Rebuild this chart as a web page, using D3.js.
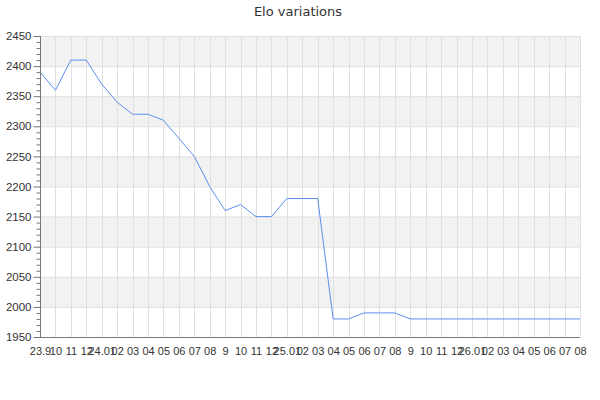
<!DOCTYPE html>
<html><head><meta charset="utf-8">
<script src="https://cdn.jsdelivr.net/npm/d3@7"></script>
<style>body{margin:0;background:#fff}svg{font-family:"DejaVu Sans",sans-serif}</style>
</head><body>
<svg id="c" width="600" height="400"></svg>
<script>
const labels = ["23.9","10","11","12","24.01","02","03","04","05","06","07","08","9","10","11","12","25.01","02","03","04","05","06","07","08","9","10","11","12","26.01","02","03","04","05","06","07","08"];
const elo = [2390,2360,2410,2410,2370,2340,2320,2320,2310,2280,2250,2200,2160,2170,2150,2150,2180,2180,2180,1980,1980,1990,1990,1990,1980,1980,1980,1980,1980,1980,1980,1980,1980,1980,1980,1980];
const yTicks = [1950,2000,2050,2100,2150,2200,2250,2300,2350,2400,2450];
const title = "Elo variations";

const svg = d3.select("#c");
const L=40,R=580,T=36,B=337;
const idx = d3.range(labels.length);
const x = d3.scalePoint().domain(idx).range([L,R]);
const y = d3.scaleLinear().domain([1950,2450]).range([B,T]);

// bands
const g = svg.append("g");
for(let i=0;i<yTicks.length-1;i++){
  if((yTicks.length-2-i)%2===0){
    g.append("rect").attr("x",L).attr("width",R-L)
     .attr("y",y(yTicks[i+1])).attr("height",y(yTicks[i])-y(yTicks[i+1])).attr("fill","#f2f2f2");
  }
}
// grid
svg.append("g").selectAll("line").data(yTicks).join("line")
  .attr("x1",L).attr("x2",R).attr("y1",d=>y(d)+0.5).attr("y2",d=>y(d)+0.5)
  .attr("stroke","#e0e0e0");
svg.append("g").selectAll("line").data(idx).join("line")
  .attr("x1",d=>Math.round(x(d))+0.5).attr("x2",d=>Math.round(x(d))+0.5).attr("y1",T).attr("y2",B)
  .attr("stroke","#e0e0e0");

// line
svg.append("path").datum(elo)
  .attr("d",d3.line().x((d,i)=>x(i)).y(d=>y(d)))
  .attr("fill","none").attr("stroke","#5b8ff0").attr("stroke-width",1);

// y axis
const ya = svg.append("g").attr("transform",`translate(${L+0.5},0)`)
  .call(d3.axisLeft(y).tickValues(yTicks).tickFormat(d3.format("d")).tickSize(7).tickPadding(2));
const minor = d3.range(1950,2451,10).filter(v=>v%50!==0);
ya.append("g").selectAll("line").data(minor).join("line")
  .attr("x1",-4).attr("x2",0).attr("y1",d=>y(d)+0.5).attr("y2",d=>y(d)+0.5).attr("stroke","#777");
ya.select(".domain").attr("stroke","#777").attr("d",`M0,${T}V${B}`);
ya.selectAll(".tick line").attr("stroke","#777");
ya.selectAll("text").attr("font-size",11.5).attr("fill","#333");

// x axis
const xa = svg.append("g").attr("transform",`translate(0,${B+0.5})`)
  .call(d3.axisBottom(x).tickFormat(i=>labels[i]).tickSize(0).tickPadding(10));
xa.select(".domain").attr("stroke","#777").attr("d",`M${L},0H${R}`);
xa.selectAll("text").attr("font-size",11).attr("fill","#333");

svg.append("text").attr("x",298).attr("y",16).attr("text-anchor","middle")
  .attr("font-size",13).attr("fill","#333").text(title);
</script>
</body></html>
